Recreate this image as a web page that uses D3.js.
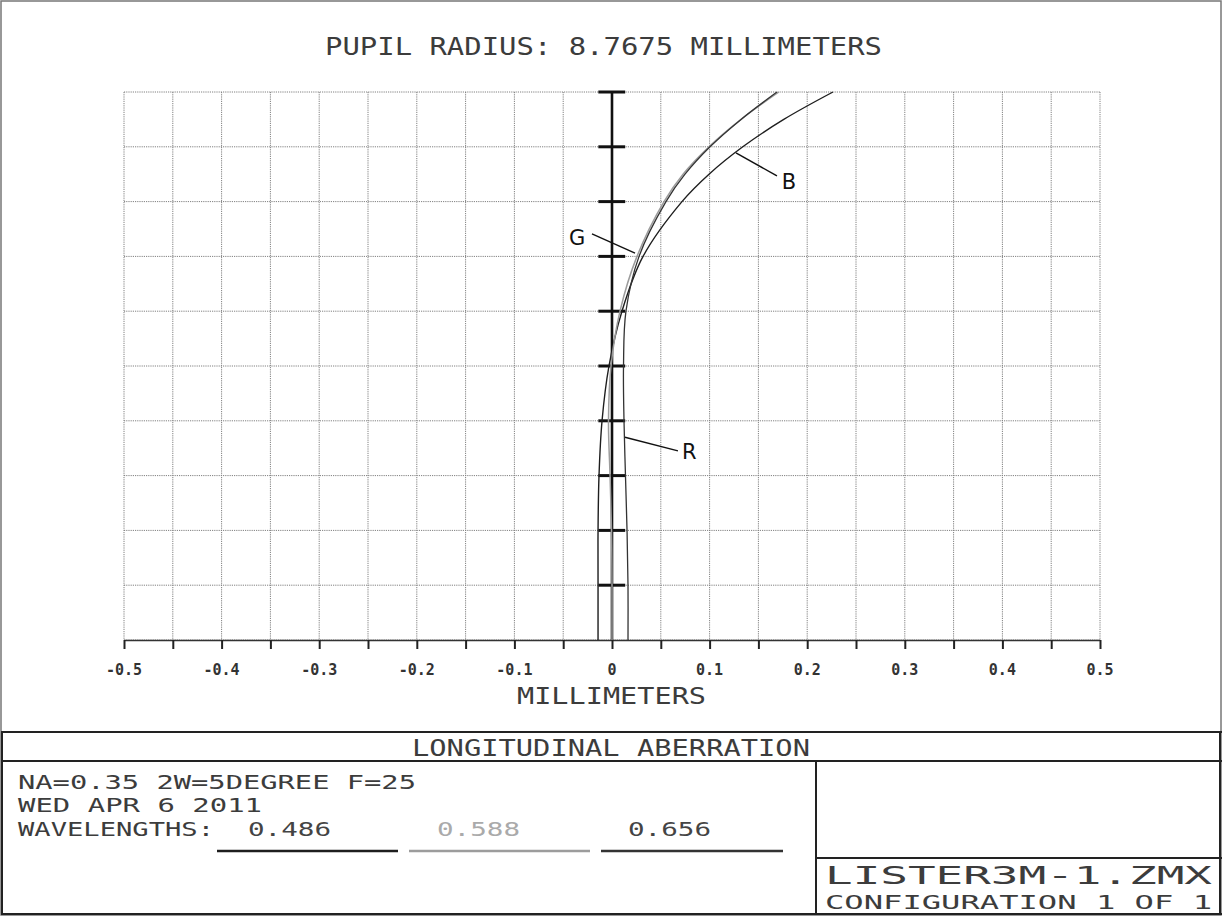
<!DOCTYPE html>
<html>
<head>
<meta charset="utf-8">
<script src="https://cdn.jsdelivr.net/npm/d3@7"></script>
<style>
  html,body{margin:0;padding:0;background:#fff;}
  svg{display:block;}
</style>
</head>
<body>
<svg id="chart" width="1223" height="917"></svg>
<script>
// ---------- DATA ----------
const pupil      = [0, 0.1, 0.2, 0.3, 0.4, 0.5, 0.6, 0.7, 0.8, 0.85, 0.9, 0.95, 1.0];
const blue486    = [-0.0143, -0.0143, -0.0143, -0.0133, -0.0102, -0.0031, 0.0102, 0.0318, 0.0717, 0.0994, 0.134, 0.176, 0.2264];
const green588   = [0, 0, -0.0005, -0.002, -0.0036, -0.001, 0.0082, 0.0256, 0.0533, 0.0728, 0.0994, 0.1322, 0.171];
const red656     = [0.0164, 0.0164, 0.0154, 0.0138, 0.0123, 0.0118, 0.0143, 0.0277, 0.0553, 0.0748, 0.1004, 0.1322, 0.169];
const xTickVals  = [-0.5,-0.45,-0.4,-0.35,-0.3,-0.25,-0.2,-0.15,-0.1,-0.05,0,0.05,0.1,0.15,0.2,0.25,0.3,0.35,0.4,0.45,0.5];
const xTickLabels= ["-0.5","-0.4","-0.3","-0.2","-0.1","0","0.1","0.2","0.3","0.4","0.5"];
const yTickVals  = [0.1,0.2,0.3,0.4,0.5,0.6,0.7,0.8,0.9,1.0];
const wavelengths= ["0.486","0.588","0.656"];
const seriesNames= ["B","G","R"];
const titleText  = "PUPIL RADIUS: 8.7675 MILLIMETERS";
const xAxisTitle = "MILLIMETERS";
const plotName   = "LONGITUDINAL ABERRATION";
const infoLines  = ["NA=0.35 2W=5DEGREE F=25", "WED APR 6 2011"];
const fileName   = "LISTER3M-1.ZMX";
const configText = "CONFIGURATION 1 OF 1";
// label annotations in data units: text position, leader start, leader end
const labelAnchors = {
  B: {text:[0.174, 0.823], lineFrom:[0.169, 0.847], lineTo:[0.127, 0.889]},
  G: {text:[-0.044, 0.721], lineFrom:[-0.0205, 0.741], lineTo:[0.0236, 0.706]},
  R: {text:[0.0717, 0.330], lineFrom:[0.0676, 0.345], lineTo:[0.0133, 0.370]}
};

// ---------- SETUP ----------
const svg = d3.select("#chart");
const FONT = "'DejaVu Sans Mono', monospace";
const TXT = "#3c3c3c";

const x = d3.scaleLinear().domain([-0.5, 0.5]).range([124, 1100]);
const y = d3.scaleLinear().domain([0, 1]).range([640, 92]);

// outer frame
svg.append("rect").attr("x",1).attr("y",1).attr("width",1220).attr("height",914)
  .attr("fill","none").attr("stroke","#777").attr("stroke-width",1.5);

// title
svg.append("text").attr("x",325).attr("y",55).attr("textLength",557).attr("lengthAdjust","spacingAndGlyphs")
  .attr("font-family",FONT).attr("font-size",24).attr("fill",TXT).text(titleText);

// grid
const grid = svg.append("g").attr("stroke","#808080").attr("stroke-width",1).attr("stroke-dasharray","1.2,1");
grid.selectAll("line.v").data(xTickVals).join("line").attr("class","v")
  .attr("x1",d=>x(d)).attr("x2",d=>x(d)).attr("y1",y(1)).attr("y2",y(0));
grid.selectAll("line.h").data([0,...yTickVals]).join("line").attr("class","h")
  .attr("x1",x(-0.5)).attr("x2",x(0.5)).attr("y1",d=>y(d)).attr("y2",d=>y(d));

// x axis
const xAxis = d3.axisBottom(x).tickValues(xTickVals).tickSize(9).tickSizeOuter(0)
  .tickFormat(()=> "");
const gx = svg.append("g").attr("transform",`translate(0,${y(0)})`).call(xAxis);
gx.select(".domain").attr("stroke","#333").attr("stroke-width",1.6);
gx.selectAll(".tick line").attr("stroke","#222").attr("stroke-width",2);
svg.append("g").selectAll("text").data(xTickLabels).join("text")
  .attr("x",d=>x(+d)).attr("y",675).attr("text-anchor","middle")
  .attr("font-family",FONT).attr("font-size",15).attr("font-weight","bold").attr("fill","#333")
  .text(d=>d);

svg.append("text").attr("x",517).attr("y",704).attr("textLength",189).attr("lengthAdjust","spacingAndGlyphs")
  .attr("font-family",FONT).attr("font-size",23).attr("fill",TXT).text(xAxisTitle);

// y axis (center at x=0)
svg.append("line").attr("x1",x(0)).attr("x2",x(0)).attr("y1",y(1)).attr("y2",y(0))
  .attr("stroke","#111").attr("stroke-width",2.6);
svg.append("g").selectAll("line").data(yTickVals).join("line")
  .attr("x1",x(-0.014)).attr("x2",x(0.0135)).attr("y1",d=>y(d)).attr("y2",d=>y(d))
  .attr("stroke","#111").attr("stroke-width",3);

// curves
const series = [
  {name:"B", vals:blue486,  color:"#1e1e1e", w:1.4},
  {name:"G", vals:green588, color:"#9c9c9c", w:1.5},
  {name:"R", vals:red656,   color:"#333333", w:1.3}
];
const line = d3.line().x(d=>x(d[0])).y(d=>y(d[1])).curve(d3.curveCatmullRom.alpha(0.5));
svg.append("g").selectAll("path").data(series).join("path")
  .attr("d",s=>line(s.vals.map((v,i)=>[v,pupil[i]])))
  .attr("fill","none").attr("stroke",s=>s.color).attr("stroke-width",s=>s.w);

// labels
seriesNames.forEach(n=>{
  const a = labelAnchors[n];
  svg.append("line").attr("x1",x(a.lineFrom[0])).attr("y1",y(a.lineFrom[1]))
    .attr("x2",x(a.lineTo[0])).attr("y2",y(a.lineTo[1]))
    .attr("stroke","#111").attr("stroke-width",1.4);
  svg.append("text").attr("x",x(a.text[0])).attr("y",y(a.text[1]))
    .attr("font-family","'DejaVu Sans', sans-serif").attr("font-size",21).attr("fill","#111").text(n);
});

// ---------- bottom panel ----------
const P = svg.append("g").attr("stroke","#222").attr("stroke-width",2).attr("fill","none");
P.append("line").attr("x1",1).attr("x2",1222).attr("y1",732).attr("y2",732);
P.append("line").attr("x1",1).attr("x2",1222).attr("y1",761).attr("y2",761);
P.append("line").attr("x1",2).attr("x2",2).attr("y1",732).attr("y2",915);
P.append("line").attr("x1",1220).attr("x2",1220).attr("y1",732).attr("y2",915);
P.append("line").attr("x1",1).attr("x2",1222).attr("y1",914).attr("y2",914);
P.append("line").attr("x1",816).attr("x2",816).attr("y1",761).attr("y2",915);
P.append("line").attr("x1",816).attr("x2",1222).attr("y1",858).attr("y2",858);

svg.append("text").attr("x",412).attr("y",756).attr("textLength",398).attr("lengthAdjust","spacingAndGlyphs")
  .attr("font-family",FONT).attr("font-size",23).attr("fill",TXT).text(plotName);

svg.append("text").attr("x",18).attr("y",789).attr("textLength",398).attr("lengthAdjust","spacingAndGlyphs")
  .attr("font-family",FONT).attr("font-size",19).attr("fill",TXT).text(infoLines[0]);
svg.append("text").attr("x",18).attr("y",812).attr("textLength",244).attr("lengthAdjust","spacingAndGlyphs")
  .attr("font-family",FONT).attr("font-size",19).attr("fill",TXT).text(infoLines[1]);
svg.append("text").attr("x",18).attr("y",836).attr("textLength",196).attr("lengthAdjust","spacingAndGlyphs")
  .attr("font-family",FONT).attr("font-size",19).attr("fill",TXT).text("WAVELENGTHS:");

const wlX = [248, 437, 628];
const wlColor = ["#444","#aaaaaa","#444"];
const legX = [[217,398],[409,590],[601,783]];
const legColor = ["#1e1e1e","#9c9c9c","#333"];
wavelengths.forEach((w,i)=>{
  svg.append("text").attr("x",wlX[i]).attr("y",836).attr("textLength",83).attr("lengthAdjust","spacingAndGlyphs")
    .attr("font-family",FONT).attr("font-size",19).attr("fill",wlColor[i]).text(w);
  svg.append("line").attr("x1",legX[i][0]).attr("x2",legX[i][1]).attr("y1",851).attr("y2",851)
    .attr("stroke",legColor[i]).attr("stroke-width",2.5);
});

svg.append("text").attr("x",825).attr("y",884).attr("textLength",387).attr("lengthAdjust","spacingAndGlyphs")
  .attr("font-family",FONT).attr("font-size",24).attr("fill",TXT).text(fileName);
svg.append("text").attr("x",825).attr("y",909).attr("textLength",387).attr("lengthAdjust","spacingAndGlyphs")
  .attr("font-family",FONT).attr("font-size",19).attr("fill",TXT).text(configText);
</script>
</body>
</html>
